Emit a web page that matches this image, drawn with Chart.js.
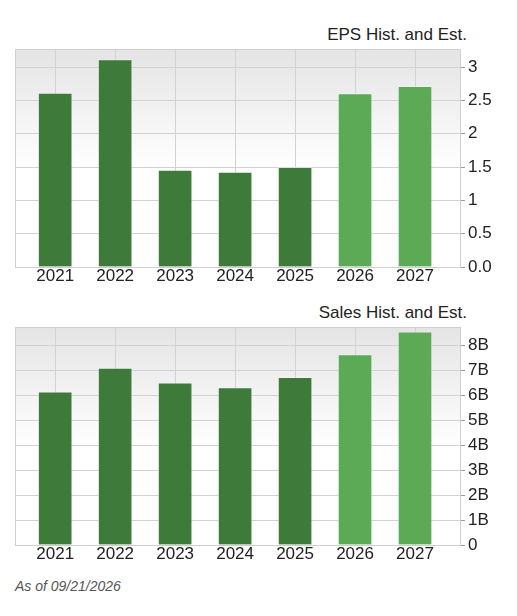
<!DOCTYPE html>
<html><head><meta charset="utf-8">
<script src="https://cdn.jsdelivr.net/npm/chart.js@4"></script>
<style>
body{margin:0;background:#fff;font-family:"Liberation Sans",Arial,sans-serif;}
.c{position:absolute;left:0;width:517px;}
.t{position:absolute;right:50px;font-size:17px;color:#222;}
#foot{position:absolute;left:15px;top:578px;font-size:14px;font-style:italic;color:#555;}
</style></head><body>
<div class="t" style="top:25px">EPS Hist. and Est.</div>
<div class="c" style="top:0;height:290px"><canvas id="a" width="517" height="290"></canvas></div>
<div class="t" style="top:303px">Sales Hist. and Est.</div>
<div class="c" style="top:290px;height:280px"><canvas id="b" width="517" height="280"></canvas></div>
<div id="foot">As of 09/21/2026</div>
<script>
const years=[2021,2022,2023,2024,2025,2026,2027];
const eps=[2.61,3.11,1.455,1.425,1.495,2.60,2.71];
const sales=[6.13,7.08,6.49,6.30,6.71,7.63,8.54];
const estimateFrom=2026;
const dark='#3e7a39', light='#5caa55';
const colors=years.map(y=>y>=estimateFrom?light:dark);

const bg={id:'bg',beforeDraw(ch){const a=ch.chartArea,c=ch.ctx;
 const g=c.createLinearGradient(0,a.top,0,a.bottom);g.addColorStop(0,'#e4e4e4');g.addColorStop(0.55,'#ffffff');g.addColorStop(1,'#ffffff');
 c.save();c.fillStyle=g;c.fillRect(a.left,a.top,a.right-a.left,a.bottom-a.top);c.restore();},
 afterDraw(ch){const a=ch.chartArea,c=ch.ctx;c.save();c.strokeStyle='#cfcfcf';c.lineWidth=1;
 c.beginPath();c.moveTo(a.left+0.5,a.bottom);c.lineTo(a.left+0.5,a.top+0.5);c.lineTo(a.right,a.top+0.5);c.stroke();c.restore();}};

function make(id,vals,max,step,fmt,top,xh){
 return new Chart(document.getElementById(id),{type:'bar',
 data:{datasets:[{data:years.map((y,i)=>({x:y,y:vals[i]})),backgroundColor:colors,borderColor:'rgba(255,255,255,0.25)',borderWidth:{left:1,right:1,top:1,bottom:0},barThickness:34}]},
 plugins:[bg],
 options:{responsive:false,animation:false,layout:{padding:{left:15,top:top,right:0,bottom:0}},
 plugins:{legend:{display:false},tooltip:{enabled:false}},
 scales:{
  x:{type:'linear',offset:false,min:2020.33,max:2027.75,afterBuildTicks(s){s.ticks=years.map(v=>({value:v}));},
   ticks:{callback:v=>String(v),color:'#222',font:{family:'Liberation Sans',size:17},padding:-1,maxRotation:0,autoSkip:false},
   grid:{offset:false,color:'#d2d2d2',tickLength:0},border:{display:true,color:'#cfcfcf'},afterFit(s){s.height=xh;}},
  y:{position:'right',min:0,max:max,afterBuildTicks(s){const t=[];for(let v=0;v<=max+1e-9;v+=step)t.push({value:Math.round(v*100)/100});s.ticks=t;},
   ticks:{callback:fmt,color:'#222',font:{family:'Liberation Sans',size:17},padding:3},
   grid:{color:'#d2d2d2',tickLength:5,tickColor:'#999'},border:{display:true,color:'#cfcfcf'},afterFit(s){s.width=57;}}
 }}});
}
make('a',eps,3.27,0.5,v=>v===0?'0.0':String(v),49,23);
make('b',sales,8.73,1,v=>v===0?'0':v+'B',37,25);
</script></body></html>
